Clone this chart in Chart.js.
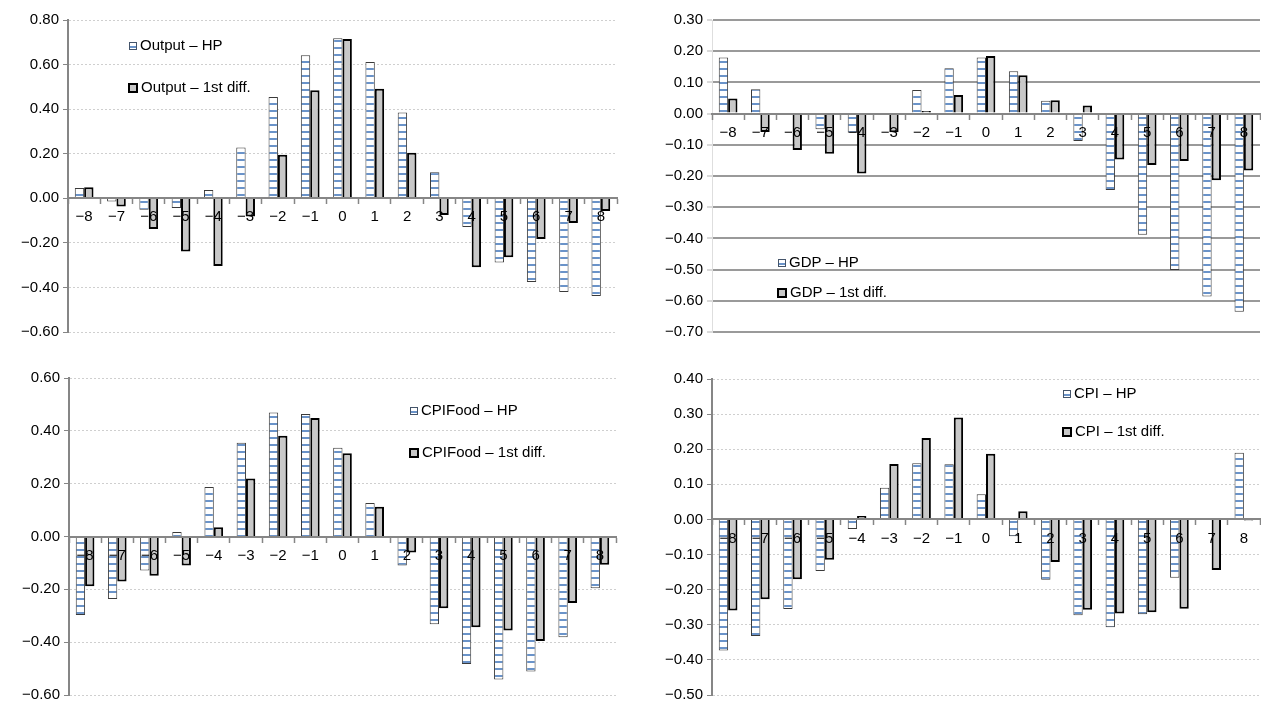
<!DOCTYPE html>
<html>
<head>
<meta charset="utf-8">
<script src="https://cdn.jsdelivr.net/npm/chart.js@4"></script>
<style>
  body { margin: 0; background: #fff; width: 1261px; height: 708px; overflow: hidden; position: relative; font-family: "Liberation Sans", Arial, sans-serif; }
  canvas { position: absolute; }
  .legend { position: absolute; font-size: 15px; color: #000; line-height: 18px; white-space: nowrap; }
  .sw { display: inline-block; width: 8px; height: 8px; margin-right: 3px; vertical-align: 0px; box-sizing: border-box; }
  .sw.hp { border: 1px solid #44546a; background: repeating-linear-gradient(to bottom, #fff 0 3px, #6a93c9 3px 5px, #fff 5px 8px); }
  .sw.df { border: 2px solid #000; background: #c8c8c8; width: 10px; height: 10px; vertical-align: -1px; }
</style>
</head>
<body>
<canvas id="outputChart" width="625" height="345" style="left:0;top:0"></canvas>
<canvas id="gdpChart" width="621" height="345" style="left:640px;top:0"></canvas>
<canvas id="foodChart" width="625" height="353" style="left:0;top:355px"></canvas>
<canvas id="cpiChart" width="621" height="353" style="left:640px;top:355px"></canvas>

<div class="legend" style="left:129px;top:36px"><span class="sw hp"></span>Output – HP</div>
<div class="legend" style="left:128px;top:78px"><span class="sw df"></span>Output – 1st diff.</div>
<div class="legend" style="left:778px;top:253px"><span class="sw hp"></span>GDP – HP</div>
<div class="legend" style="left:777px;top:283px"><span class="sw df"></span>GDP – 1st diff.</div>
<div class="legend" style="left:410px;top:401px"><span class="sw hp"></span>CPIFood – HP</div>
<div class="legend" style="left:409px;top:443px"><span class="sw df"></span>CPIFood – 1st diff.</div>
<div class="legend" style="left:1063px;top:384px"><span class="sw hp"></span>CPI – HP</div>
<div class="legend" style="left:1062px;top:422px"><span class="sw df"></span>CPI – 1st diff.</div>

<script>
// lags (quarters)
const lags = ['−8', '−7', '−6', '−5', '−4', '−3', '−2', '−1', '0', '1', '2', '3', '4', '5', '6', '7', '8'];

// correlations
const outputHP   = [0.046, -0.014, -0.052, -0.044, 0.037, 0.228, 0.454, 0.642, 0.718, 0.612, 0.385, 0.117, -0.129, -0.288, -0.376, -0.421, -0.439];
const outputDiff = [0.050, -0.037, -0.138, -0.239, -0.304, -0.082, 0.195, 0.485, 0.715, 0.492, 0.204, -0.075, -0.309, -0.265, -0.183, -0.111, -0.057];

const gdpHP   = [0.180, 0.078, -0.003, -0.050, -0.061, 0, 0.076, 0.145, 0.180, 0.136, 0.041, -0.088, -0.245, -0.388, -0.501, -0.586, -0.635];
const gdpDiff = [0.048, -0.059, -0.117, -0.129, -0.192, -0.060, 0.008, 0.060, 0.185, 0.123, 0.043, 0.026, -0.147, -0.165, -0.152, -0.214, -0.182];

const foodHP   = [-0.297, -0.237, -0.129, 0.017, 0.187, 0.355, 0.469, 0.464, 0.336, 0.127, -0.110, -0.332, -0.483, -0.541, -0.511, -0.381, -0.196];
const foodDiff = [-0.188, -0.170, -0.149, -0.110, 0.035, 0.220, 0.381, 0.449, 0.315, 0.113, -0.061, -0.272, -0.344, -0.356, -0.396, -0.252, -0.107];

const cpiHP   = [-0.373, -0.332, -0.255, -0.147, -0.027, 0.090, 0.160, 0.157, 0.072, -0.048, -0.172, -0.273, -0.307, -0.270, -0.166, 0, 0.190];
const cpiDiff = [-0.259, -0.227, -0.170, -0.115, 0.010, 0.158, 0.232, 0.290, 0.187, 0.023, -0.121, -0.257, -0.268, -0.264, -0.254, -0.144, -0.003];

const FONT = { family: '"Liberation Sans", Arial, sans-serif', size: 15 };
const AXIS = '#868686';

// white with blue horizontal stripes, like the HP bars
function stripes() {
    const c = document.createElement('canvas');
    c.width = 4; c.height = 7;
    const g = c.getContext('2d');
    g.fillStyle = '#ffffff';
    g.fillRect(0, 0, 4, 7);
    g.fillStyle = '#6a93c9';
    g.fillRect(0, 5, 4, 2);
    return g.createPattern(c, 'repeat');
}

function fmt(v) {
    const s = Math.abs(v).toFixed(2);
    return v < -1e-9 ? '−' + s : s;
}

function makeChart(id, hp, diff, yMin, yMax, step, pad, yWidth, solidGrid) {
    const ctx = document.getElementById(id).getContext('2d');
    return new Chart(ctx, {
        type: 'bar',
        data: {
            labels: lags,
            datasets: [{
                label: 'HP',
                data: hp,
                backgroundColor: stripes(),
                borderColor: '#3a3a3a',
                borderWidth: 1
            }, {
                label: '1st diff.',
                data: diff,
                backgroundColor: '#c8c8c8',
                borderColor: '#000000',
                borderWidth: 2
            }]
        },
        options: {
            responsive: false,
            animation: false,
            devicePixelRatio: 1,
            categoryPercentage: 0.58,
            barPercentage: 1.0,
            layout: { padding: pad },
            scales: {
                x: {
                    position: { y: 0 },
                    offset: true,
                    afterFit: function(scale) { scale.height = 0; },
                    grid: {
                        offset: true,
                        drawOnChartArea: false,
                        tickLength: 5,
                        tickColor: AXIS,
                        tickWidth: 1.5,
                        z: 1
                    },
                    border: { color: AXIS, width: 2, z: 1 },
                    ticks: { font: FONT, color: '#000', padding: 5, maxRotation: 0, autoSkip: false, z: 2 }
                },
                y: {
                    min: yMin,
                    max: yMax,
                    afterFit: function(scale) { scale.width = yWidth; },
                    grid: {
                        color: solidGrid ? '#9a9a9a' : '#cfcfcf',
                        lineWidth: solidGrid ? 2 : 1,
                        tickLength: 5,
                        tickColor: solidGrid ? '#d9d9d9' : AXIS
                    },
                    border: solidGrid
                        ? { color: '#dedede', width: 1 }
                        : { color: AXIS, width: 2, dash: [2, 2] },
                    ticks: {
                        stepSize: step,
                        font: FONT,
                        color: '#000',
                        padding: 4,
                        callback: function(value) { return fmt(value); }
                    }
                }
            },
            plugins: {
                legend: { display: false },
                tooltip: { enabled: false }
            }
        }
    });
}

document.addEventListener('DOMContentLoaded', function() {
    makeChart('outputChart', outputHP, outputDiff, -0.6, 0.8, 0.2, { top: 20, bottom: 13, right: 8, left: 0 }, 68, false);
    makeChart('gdpChart', gdpHP, gdpDiff, -0.7, 0.3, 0.1, { top: 20, bottom: 13, right: 1, left: 0 }, 72, true);
    makeChart('foodChart', foodHP, foodDiff, -0.6, 0.6, 0.2, { top: 23, bottom: 7, right: 9, left: 0 }, 69, false);
    makeChart('cpiChart', cpiHP, cpiDiff, -0.5, 0.4, 0.1, { top: 24, bottom: 8, right: 1, left: 0 }, 72, false);
});
</script>
</body>
</html>
